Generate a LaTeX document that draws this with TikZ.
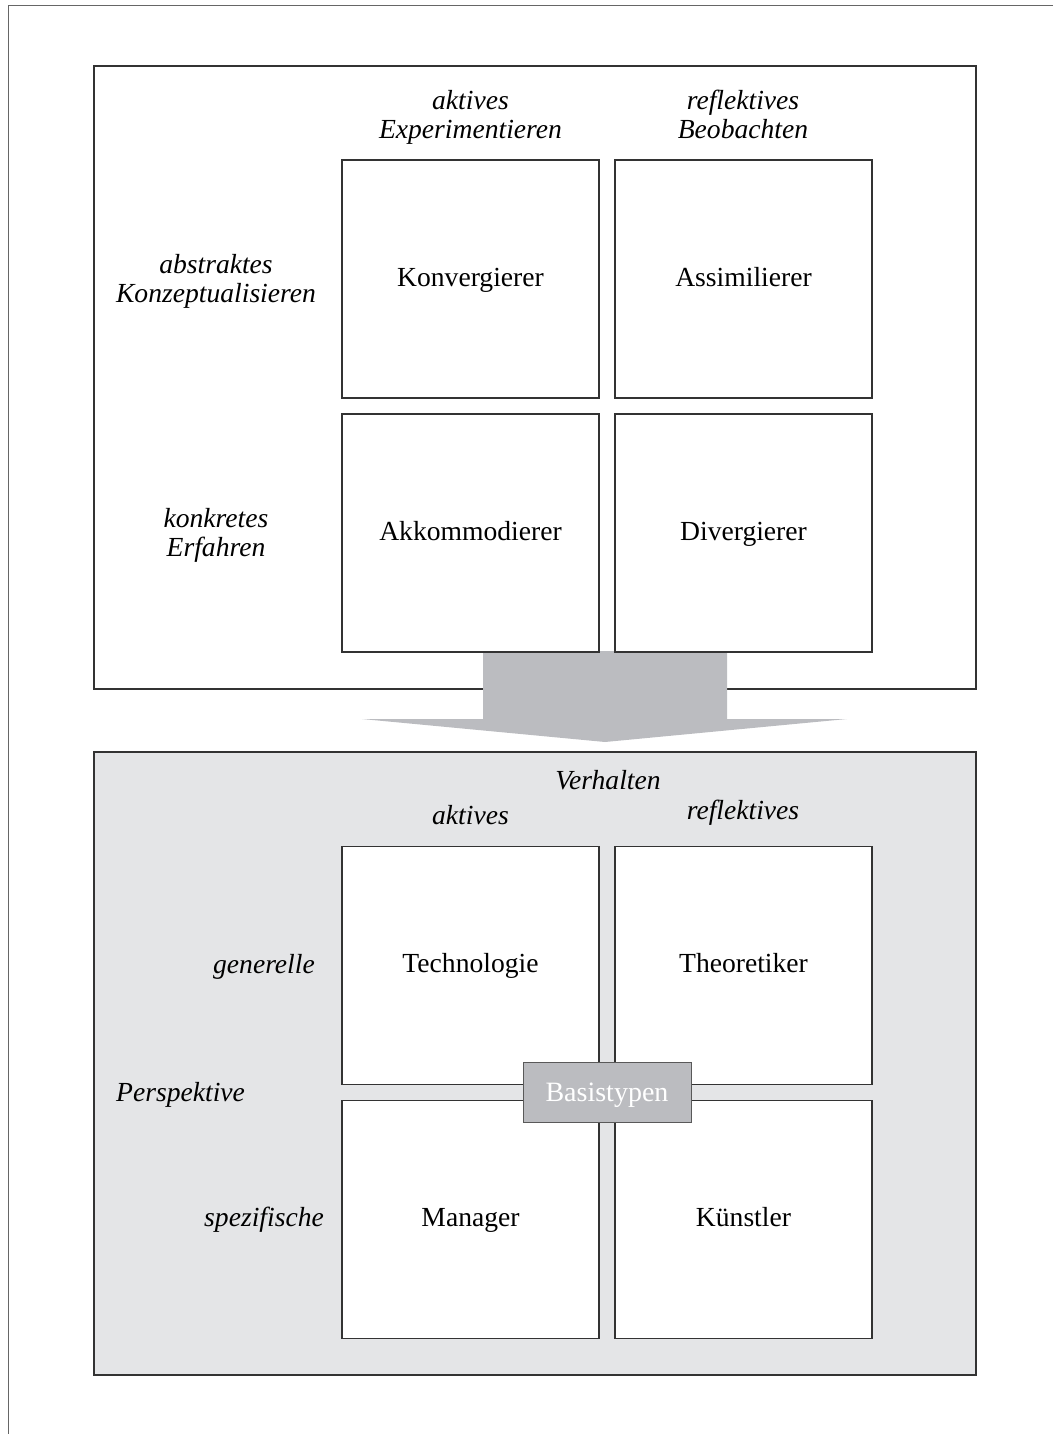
\documentclass[tikz,border=0pt]{standalone}
\usepackage{fontspec}
\setmainfont{Liberation Serif}
\usetikzlibrary{positioning}

\definecolor{panelgray}{HTML}{E4E5E7}
\definecolor{arrowgray}{HTML}{BBBCC0}
\definecolor{linegray}{HTML}{333333}

\begin{document}
\begin{tikzpicture}[x=1pt,y=-1pt,
    % styles
    frame line/.style={draw=gray!80!black,line width=1pt},
    panel/.style={draw=linegray,line width=1.3pt,inner sep=0pt,
      minimum width=882pt,minimum height=623pt},
    type box/.style={draw=linegray,line width=1.3pt,fill=white,inner sep=0pt,
      outer sep=0pt,minimum width=257pt,minimum height=238pt,
      text height=20pt,text depth=5.4pt,
      font=\fontsize{27.6}{29}\selectfont},
    axis label/.style={inner sep=0pt,align=center,
      text height=0.7em,text depth=0.25em,
      font=\fontsize{27.6}{29}\selectfont\itshape},
    base label/.style={draw=gray!70!black,line width=1pt,fill=arrowgray,
      text=white,inner sep=0pt,minimum width=168pt,minimum height=60pt,
      text height=22pt,text depth=4pt,
      font=\fontsize{28}{30}\selectfont}]

  \useasboundingbox (0,0) rectangle (1053,1434);

  % frame
  \draw[frame line] (1053,6) -- (8,6) -- (8,1434);

  % panels
  \node[panel] (learn panel) at (535,377.5) {};
  \node[panel,fill=panelgray] (base panel) at (535,1063.5) {};

  % arrow
  \fill[arrowgray] (483,651) -- (727,651) -- (727,719) -- (847,719)
    -- (605,742) -- (362,719) -- (483,719) -- cycle;

  % learning styles
  \node[type box] (konv) at (470.5,279) {Konvergierer};
  \node[type box,right=16pt of konv] (assi) {Assimilierer};
  \node[type box,below=16pt of konv] (akko) {Akkommodierer};
  \node[type box,right=16pt of akko] (dive) {Divergierer};

  \node[axis label] (aktexp) at (470.5,136) {aktives\\Experimentieren};
  \node[axis label] (refbeo) at (743,136) {reflektives\\Beobachten};
  \node[axis label] (abskon) at (216,300) {abstraktes\\Konzeptualisieren};
  \node[axis label] (konerf) at (216,554) {konkretes\\Erfahren};

  % base types
  \node[type box] (tech) at (470.5,965.5) {Technologie};
  \node[type box,right=16pt of tech] (theo) {Theoretiker};
  \node[type box,below=16pt of tech] (mana) {Manager};
  \node[type box,right=16pt of mana] (kuen) {Künstler};

  \node[axis label] (verh) at (608,787) {Verhalten};
  \node[axis label] (akt) at (470.5,822) {aktives};
  \node[axis label] (refl) at (743,817) {reflektives};
  \node[axis label,anchor=east] (gene) at (315,971) {generelle};
  \node[axis label,anchor=east] (spez) at (324,1224) {spezifische};
  \node[axis label,anchor=west] (pers) at (116,1099) {Perspektive};

  \node[base label] (basis) at (607,1092) {Basistypen};
\end{tikzpicture}
\end{document}
